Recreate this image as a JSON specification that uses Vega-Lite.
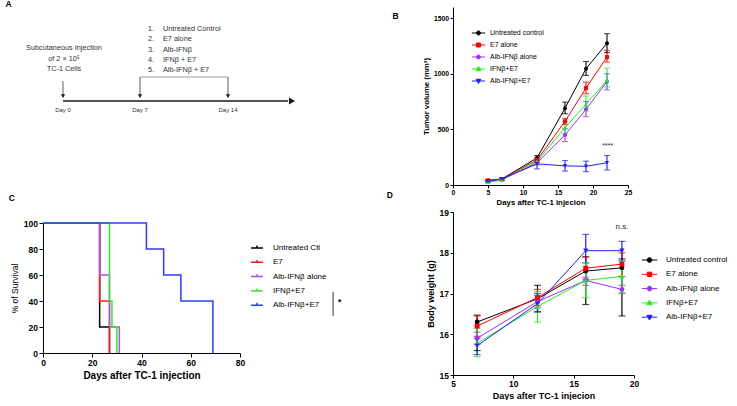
{
"$schema":"https://vega.github.io/schema/vega-lite/v6.json",
"padding":0,
"config":{
 "font":"Liberation Sans",
 "view":{"stroke":null},
 "axis":{"grid":false,"domainColor":"#000","tickColor":"#000","labelColor":"#000","titleColor":"#000","labelFont":"Liberation Sans","titleFont":"Liberation Sans","labelFontWeight":"bold","titleFontWeight":"bold","labelFlush":false,"labelOverlap":false,"domainWidth":1,"tickWidth":1,"tickSize":3,"labelPadding":1.5,"format":"d"},
 "axisY":{"labelOverlap":false},
 "legend":{"labelColor":"#000","labelFont":"Liberation Sans"},
 "title":{"color":"#000","font":"Liberation Sans"},
 "text":{"font":"Liberation Sans"}
},
"datasets":{
 "tumor":[
  {"series":"Untreated control","day":5,"mean":38,"lo":31,"hi":45},
  {"series":"Untreated control","day":7,"mean":55,"lo":48,"hi":62},
  {"series":"Untreated control","day":12,"mean":243,"lo":218,"hi":265},
  {"series":"Untreated control","day":16,"mean":690,"lo":640,"hi":745},
  {"series":"Untreated control","day":19,"mean":1045,"lo":985,"hi":1110},
  {"series":"Untreated control","day":22,"mean":1275,"lo":1190,"hi":1360},
  {"series":"E7 alone","day":5,"mean":42,"lo":35,"hi":49},
  {"series":"E7 alone","day":7,"mean":52,"lo":46,"hi":58},
  {"series":"E7 alone","day":12,"mean":225,"lo":205,"hi":245},
  {"series":"E7 alone","day":16,"mean":572,"lo":545,"hi":598},
  {"series":"E7 alone","day":19,"mean":872,"lo":820,"hi":925},
  {"series":"E7 alone","day":22,"mean":1150,"lo":1105,"hi":1210},
  {"series":"Alb-IFNβ alone","day":5,"mean":30,"lo":24,"hi":36},
  {"series":"Alb-IFNβ alone","day":7,"mean":48,"lo":42,"hi":54},
  {"series":"Alb-IFNβ alone","day":12,"mean":200,"lo":180,"hi":220},
  {"series":"Alb-IFNβ alone","day":16,"mean":450,"lo":390,"hi":505},
  {"series":"Alb-IFNβ alone","day":19,"mean":680,"lo":615,"hi":750},
  {"series":"Alb-IFNβ alone","day":22,"mean":930,"lo":855,"hi":1000},
  {"series":"IFNβ+E7","day":5,"mean":25,"lo":20,"hi":31},
  {"series":"IFNβ+E7","day":7,"mean":45,"lo":40,"hi":50},
  {"series":"IFNβ+E7","day":12,"mean":212,"lo":192,"hi":232},
  {"series":"IFNβ+E7","day":16,"mean":515,"lo":460,"hi":570},
  {"series":"IFNβ+E7","day":19,"mean":725,"lo":665,"hi":800},
  {"series":"IFNβ+E7","day":22,"mean":940,"lo":880,"hi":1050},
  {"series":"Alb-IFNβ+E7","day":5,"mean":35,"lo":26,"hi":44},
  {"series":"Alb-IFNβ+E7","day":7,"mean":55,"lo":46,"hi":64},
  {"series":"Alb-IFNβ+E7","day":12,"mean":190,"lo":145,"hi":235},
  {"series":"Alb-IFNβ+E7","day":16,"mean":172,"lo":125,"hi":220},
  {"series":"Alb-IFNβ+E7","day":19,"mean":168,"lo":120,"hi":215},
  {"series":"Alb-IFNβ+E7","day":22,"mean":200,"lo":135,"hi":265}
 ],
 "weight":[
  {"series":"Untreated control","day":7,"mean":16.3,"lo":15.6,"hi":16.47},
  {"series":"Untreated control","day":12,"mean":16.87,"lo":16.55,"hi":17.2},
  {"series":"Untreated control","day":16,"mean":17.55,"lo":16.73,"hi":17.9},
  {"series":"Untreated control","day":19,"mean":17.63,"lo":16.45,"hi":17.85},
  {"series":"E7 alone","day":7,"mean":16.2,"lo":15.95,"hi":16.45},
  {"series":"E7 alone","day":12,"mean":16.9,"lo":16.7,"hi":17.1},
  {"series":"E7 alone","day":16,"mean":17.62,"lo":17.35,"hi":17.9},
  {"series":"E7 alone","day":19,"mean":17.72,"lo":17.42,"hi":18.0},
  {"series":"Alb-IFNβ alone","day":7,"mean":15.9,"lo":15.75,"hi":16.05},
  {"series":"Alb-IFNβ alone","day":12,"mean":16.8,"lo":16.65,"hi":16.95},
  {"series":"Alb-IFNβ alone","day":16,"mean":17.32,"lo":17.2,"hi":17.4},
  {"series":"Alb-IFNβ alone","day":19,"mean":17.1,"lo":17.0,"hi":17.2},
  {"series":"IFNβ+E7","day":7,"mean":15.78,"lo":15.45,"hi":16.15},
  {"series":"IFNβ+E7","day":12,"mean":16.68,"lo":16.3,"hi":17.05},
  {"series":"IFNβ+E7","day":16,"mean":17.32,"lo":16.9,"hi":17.75},
  {"series":"IFNβ+E7","day":19,"mean":17.42,"lo":17.02,"hi":17.8},
  {"series":"Alb-IFNβ+E7","day":7,"mean":15.72,"lo":15.5,"hi":15.9},
  {"series":"Alb-IFNβ+E7","day":12,"mean":16.75,"lo":16.55,"hi":17.0},
  {"series":"Alb-IFNβ+E7","day":16,"mean":18.05,"lo":17.75,"hi":18.45},
  {"series":"Alb-IFNβ+E7","day":19,"mean":18.05,"lo":17.8,"hi":18.28}
 ],
 "surv":[
  {"series":"Untreated Ctl","day":0,"pct":100},
  {"series":"Untreated Ctl","day":23,"pct":20},
  {"series":"Untreated Ctl","day":27,"pct":0},
  {"series":"E7","day":0,"pct":100},
  {"series":"E7","day":23,"pct":40},
  {"series":"E7","day":27,"pct":0},
  {"series":"Alb-IFNβ alone","day":0,"pct":100},
  {"series":"Alb-IFNβ alone","day":23,"pct":60},
  {"series":"Alb-IFNβ alone","day":27,"pct":20},
  {"series":"Alb-IFNβ alone","day":31,"pct":0},
  {"series":"IFNβ+E7","day":0,"pct":100},
  {"series":"IFNβ+E7","day":27,"pct":40},
  {"series":"IFNβ+E7","day":28,"pct":20},
  {"series":"IFNβ+E7","day":30,"pct":0},
  {"series":"Alb-IFNβ+E7","day":0,"pct":100},
  {"series":"Alb-IFNβ+E7","day":42,"pct":80},
  {"series":"Alb-IFNβ+E7","day":49,"pct":60},
  {"series":"Alb-IFNβ+E7","day":56,"pct":40},
  {"series":"Alb-IFNβ+E7","day":69,"pct":0}
 ]
},
"bounds":"flush",
"spacing":410,
"resolve":{"scale":{"color":"independent","shape":"independent","strokeWidth":"independent","size":"independent"}},
"hconcat":[
 {"vconcat":[
  {
   "width":197,"height":200,
   "layer":[
    {"data":{"values":[
      {"part":"timeline","x1":10.15,"x2":124.4,"y1":47,"y2":47},
      {"part":"bracket","x1":49.24,"x2":93.9,"y1":35,"y2":35},
      {"part":"arrow","x1":10.15,"x2":10.15,"y1":37,"y2":45},
      {"part":"arrow","x1":49.24,"x2":49.24,"y1":35,"y2":45},
      {"part":"arrow","x1":93.9,"x2":93.9,"y1":35,"y2":45}]},
     "mark":{"type":"rule"},
     "encoding":{
      "x":{"field":"x1","type":"quantitative","scale":{"domain":[0,100]},"axis":null},
      "x2":{"field":"x2"},
      "y":{"field":"y1","type":"quantitative","scale":{"domain":[0,100],"reverse":true},"axis":null},
      "y2":{"field":"y2"},
      "color":{"field":"part","type":"nominal","scale":{"domain":["timeline","bracket","arrow"],"range":["#1a1a1a","#a0a0a0","#333333"]},"legend":null},
      "strokeWidth":{"field":"part","type":"ordinal","scale":{"domain":["timeline","bracket","arrow"],"range":[1.6,0.8,0.9]},"legend":null}
     }},
    {"data":{"values":[
      {"dir":"down","x":10.15,"y":44.6},
      {"dir":"down","x":49.24,"y":44.6},
      {"dir":"down","x":93.9,"y":44.6},
      {"dir":"right","x":126.4,"y":47}]},
     "mark":{"type":"point","filled":true,"opacity":1,"fill":"#1a1a1a","stroke":null},
     "encoding":{
      "x":{"field":"x","type":"quantitative"},
      "y":{"field":"y","type":"quantitative"},
      "shape":{"field":"dir","type":"nominal","scale":{"domain":["down","right"],"range":["triangle-down","triangle-right"]},"legend":null},
      "size":{"field":"dir","type":"ordinal","scale":{"domain":["down","right"],"range":[18,50]},"legend":null}
     }},
    {"data":{"values":[
      {"t":"Subcutaneous Injection","x":10.66,"y":20.5},
      {"t":"of 2 × 10⁵","x":10.66,"y":26},
      {"t":"TC-1 Cells","x":10.66,"y":31}]},
     "mark":{"type":"text","fontSize":7.3,"fill":"#333333","align":"center","baseline":"middle"},
     "encoding":{"x":{"field":"x","type":"quantitative"},"y":{"field":"y","type":"quantitative"},"text":{"field":"t"}}},
    {"data":{"values":[
      {"t":"Day 0","x":10.15,"y":51.5},
      {"t":"Day 7","x":49.24,"y":51.5},
      {"t":"Day 14","x":93.9,"y":51.5}]},
     "mark":{"type":"text","fontSize":6,"fill":"#333333","align":"center","baseline":"middle"},
     "encoding":{"x":{"field":"x","type":"quantitative"},"y":{"field":"y","type":"quantitative"},"text":{"field":"t"}}},
    {"data":{"values":[
      {"n":"1.","t":"Untreated Control","xn":53.3,"xt":60.9,"y":10.85},
      {"n":"2.","t":"E7 alone","xn":53.3,"xt":60.9,"y":16.15},
      {"n":"3.","t":"Alb-IFNβ","xn":53.3,"xt":60.9,"y":21.35},
      {"n":"4.","t":"IFNβ + E7","xn":53.3,"xt":60.9,"y":26.35},
      {"n":"5.","t":"Alb-IFNβ + E7","xn":53.3,"xt":60.9,"y":31.35}]},
     "layer":[
      {"mark":{"type":"text","fontSize":7.3,"fill":"#333333","align":"left","baseline":"middle"},
       "encoding":{"x":{"field":"xn","type":"quantitative"},"y":{"field":"y","type":"quantitative"},"text":{"field":"n"}}},
      {"mark":{"type":"text","fontSize":7.3,"fill":"#333333","align":"left","baseline":"middle"},
       "encoding":{"x":{"field":"xt","type":"quantitative"},"y":{"field":"y","type":"quantitative"},"text":{"field":"t"}}}
     ]}
   ]
  },
  {
   "width":197,"height":130,
   "layer":[
    {"data":{"name":"surv"},
     "mark":{"type":"line","interpolate":"step-after","strokeWidth":1.5},
     "encoding":{
      "x":{"field":"day","type":"quantitative","scale":{"domain":[0,80]},"axis":{"values":[0,20,40,60,80],"title":"Days after TC-1 injection","labelFontSize":8.5,"titleFontSize":10,"tickSize":4,"titlePadding":3,"labelOverlap":false}},
      "y":{"field":"pct","type":"quantitative","scale":{"domain":[0,100]},"axis":{"values":[0,20,40,60,80,100],"title":"% of Survival","labelFontSize":8.5,"titleFontSize":8.5,"titleFontWeight":"normal","tickSize":4,"titlePadding":4,"labelOverlap":false,"labelSeparation":-40}},
      "color":{"field":"series","type":"nominal","scale":{"domain":["Untreated Ctl","E7","Alb-IFNβ alone","IFNβ+E7","Alb-IFNβ+E7"],"range":["#000000","#ff1a1a","#b44ee8","#2ee82e","#2a3cff"]},
       "legend":{"orient":"none","legendX":207,"legendY":18,"title":null,"labelFontSize":8,"symbolType":"M-1,0H1M0,0V-0.4","symbolSize":144,"symbolStrokeWidth":1.5,"labelOffset":9,"rowPadding":3.3}}
     }},
    {"data":{"values":[{"day":117.8,"pct":47,"pct2":28.5}]},
     "mark":{"type":"rule","color":"#000","strokeWidth":0.8},
     "encoding":{
      "x":{"field":"day","type":"quantitative","axis":{"values":[0,20,40,60,80],"title":"Days after TC-1 injection","labelFontSize":8.5,"titleFontSize":10,"tickSize":4,"titlePadding":3,"labelOverlap":false}},
      "y":{"field":"pct","type":"quantitative","axis":{"values":[0,20,40,60,80,100],"title":"% of Survival","labelFontSize":8.5,"titleFontSize":8.5,"titleFontWeight":"normal","tickSize":4,"titlePadding":4,"labelOverlap":false,"labelSeparation":-40}},
      "y2":{"field":"pct2"}}},
    {"data":{"values":[{"day":120.5,"pct":39,"t":"*"},{"day":-12.7,"pct":119.5,"t":"C"},{"day":-14.0,"pct":268.1,"t":"A"}]},
     "mark":{"type":"text","fontSize":8.5,"fontWeight":"bold","fill":"#000","align":"center","baseline":"middle"},
     "encoding":{
      "x":{"field":"day","type":"quantitative","axis":{"values":[0,20,40,60,80],"title":"Days after TC-1 injection","labelFontSize":8.5,"titleFontSize":10,"tickSize":4,"titlePadding":3,"labelOverlap":false}},
      "y":{"field":"pct","type":"quantitative","axis":{"values":[0,20,40,60,80,100],"title":"% of Survival","labelFontSize":8.5,"titleFontSize":8.5,"titleFontWeight":"normal","tickSize":4,"titlePadding":4,"labelOverlap":false,"labelSeparation":-40}},
      "text":{"field":"t"}}}
   ]
  }
 ],"spacing":16,"bounds":"flush","resolve":{"scale":{"color":"independent","shape":"independent","strokeWidth":"independent","size":"independent"}}},
 {"vconcat":[
  {
   "width":175,"height":178,
   "data":{"name":"tumor"},
   "encoding":{
    "x":{"field":"day","type":"quantitative","scale":{"domain":[0,25]},"axis":{"values":[0,5,10,15,20,25],"title":"Days after TC-1 injecion","labelFontSize":6.8,"titleFontSize":7.8,"titlePadding":2,"labelOverlap":false}},
    "color":{"field":"series","type":"nominal","scale":{"domain":["Untreated control","E7 alone","Alb-IFNβ alone","IFNβ+E7","Alb-IFNβ+E7"],"range":["#000000","#ff0000","#9b30ff","#22ee22","#1f1fff"]},"legend":null}
   },
   "layer":[
    {"data":{"values":[{"day":-64.714,"day2":40.571,"v":1567.4,"v2":-1853.9}]},
     "mark":{"type":"rect","fill":"#ffffff","opacity":0,"stroke":null},
     "encoding":{"x2":{"field":"day2"},"y":{"field":"v","type":"quantitative","axis":{"title":"Tumor volume (mm³)"}},"y2":{"field":"v2"},"color":{"value":"#ffffff"}}},
    {"mark":{"type":"line","strokeWidth":1},
     "encoding":{
      "y":{"field":"mean","type":"quantitative","scale":{"domain":[0,1500]},"axis":{"values":[0,500,1000,1500],"title":"Tumor volume (mm³)","labelFontSize":6.8,"titleFontSize":7.8,"titlePadding":3,"labelOverlap":false}},
      "color":{"field":"series","type":"nominal","scale":{"domain":["Untreated control","E7 alone","Alb-IFNβ alone","IFNβ+E7","Alb-IFNβ+E7"],"range":["#000000","#ff0000","#9b30ff","#22ee22","#1f1fff"]},
       "legend":{"orient":"none","legendX":18,"legendY":18.5,"title":null,"labelFontSize":7,"symbolSize":177,"labelOffset":4,"rowPadding":-1.2,"symbolStrokeWidth":1,
        "encode":{"symbols":{"update":{
         "shape":{"signal":"['M-1,0H1M-0.3,0A0.3,0.3,0,1,1,0.3,0A0.3,0.3,0,1,1,-0.3,0Z','M-1,0H1M-0.3,-0.3H0.3V0.3H-0.3Z','M-1,0H1M-0.3,0A0.3,0.3,0,1,1,0.3,0A0.3,0.3,0,1,1,-0.3,0Z','M-1,0H1M0,-0.38L0.36,0.26L-0.36,0.26Z','M-1,0H1M0,0.38L0.36,-0.26L-0.36,-0.26Z'][datum.index]"},
         "fill":{"signal":"['#000000','#ff0000','#9b30ff','#22ee22','#1f1fff'][datum.index]"},
         "stroke":{"signal":"['#000000','#ff0000','#9b30ff','#22ee22','#1f1fff'][datum.index]"},
         "opacity":{"value":1}}}}}}
     }},
    {"mark":{"type":"rule","strokeWidth":1.1},
     "encoding":{"y":{"field":"lo","type":"quantitative","axis":{"title":"Tumor volume (mm³)"}},"y2":{"field":"hi"}}},
    {"mark":{"type":"tick","orient":"horizontal","size":6,"thickness":1.1},
     "encoding":{"y":{"field":"lo","type":"quantitative","axis":{"title":"Tumor volume (mm³)"}}}},
    {"mark":{"type":"tick","orient":"horizontal","size":6,"thickness":1.1},
     "encoding":{"y":{"field":"hi","type":"quantitative","axis":{"title":"Tumor volume (mm³)"}}}},
    {"transform":[{"filter":{"field":"series","oneOf":["Untreated control","Alb-IFNβ alone"]}}],
     "mark":{"type":"point","shape":"circle","filled":true,"opacity":1,"size":16},
     "encoding":{"y":{"field":"mean","type":"quantitative","axis":{"title":"Tumor volume (mm³)"}}}},
    {"transform":[{"filter":{"field":"series","equal":"E7 alone"}}],
     "mark":{"type":"point","shape":"square","filled":true,"opacity":1,"size":16},
     "encoding":{"y":{"field":"mean","type":"quantitative","axis":{"title":"Tumor volume (mm³)"}}}},
    {"transform":[{"filter":{"field":"series","equal":"IFNβ+E7"}}],
     "mark":{"type":"point","shape":"triangle-up","filled":true,"opacity":1,"size":18},
     "encoding":{"y":{"field":"mean","type":"quantitative","axis":{"title":"Tumor volume (mm³)"}}}},
    {"transform":[{"filter":{"field":"series","equal":"Alb-IFNβ+E7"}}],
     "mark":{"type":"point","shape":"triangle-down","filled":true,"opacity":1,"size":18},
     "encoding":{"y":{"field":"mean","type":"quantitative","axis":{"title":"Tumor volume (mm³)"}}}},
    {"data":{"values":[{"day":22.1,"v":355,"t":"****"}]},
     "mark":{"type":"text","fontSize":7,"align":"center","baseline":"middle"},
     "encoding":{"y":{"field":"v","type":"quantitative","axis":{"title":"Tumor volume (mm³)"}},"text":{"field":"t"},"color":{"value":"#222"}}},
    {"data":{"values":[{"t":"B","day":-8.21,"v":1521}]},
     "mark":{"type":"text","fontSize":8.5,"fontWeight":"bold","align":"center","baseline":"middle"},
     "encoding":{"y":{"field":"v","type":"quantitative","axis":{"title":"Tumor volume (mm³)"}},"text":{"field":"t"},"color":{"value":"#000"}}}
   ]
  },
  {
   "width":181,"height":163,
   "data":{"name":"weight"},
   "encoding":{
    "x":{"field":"day","type":"quantitative","scale":{"domain":[5,20]},"axis":{"values":[5,10,15,20],"title":"Days after TC-1 injecion","labelFontSize":8.5,"titleFontSize":9,"titlePadding":3,"labelOverlap":false}},
    "color":{"field":"series","type":"nominal","scale":{"domain":["Untreated control","E7 alone","Alb-IFNβ alone","IFNβ+E7","Alb-IFNβ+E7"],"range":["#000000","#ff0000","#9b30ff","#22ee22","#1f1fff"]},"legend":null}
   },
   "layer":[
    {"mark":{"type":"line","strokeWidth":1},
     "encoding":{
      "y":{"field":"mean","type":"quantitative","scale":{"domain":[15,19]},"axis":{"values":[15,16,17,18,19],"title":"Body weight (g)","labelFontSize":8.5,"titleFontSize":9,"titlePadding":4,"labelOverlap":false}},
      "color":{"field":"series","type":"nominal","scale":{"domain":["Untreated control","E7 alone","Alb-IFNβ alone","IFNβ+E7","Alb-IFNβ+E7"],"range":["#000000","#ff0000","#9b30ff","#22ee22","#1f1fff"]},
       "legend":{"orient":"none","legendX":188,"legendY":39.5,"title":null,"labelFontSize":8,"symbolSize":240,"labelOffset":8,"rowPadding":1.3,"symbolStrokeWidth":1,
        "encode":{"symbols":{"update":{
         "shape":{"signal":"['M-1,0H1M-0.3,0A0.3,0.3,0,1,1,0.3,0A0.3,0.3,0,1,1,-0.3,0Z','M-1,0H1M-0.28,-0.28H0.28V0.28H-0.28Z','M-1,0H1M-0.3,0A0.3,0.3,0,1,1,0.3,0A0.3,0.3,0,1,1,-0.3,0Z','M-1,0H1M0,-0.36L0.34,0.24L-0.34,0.24Z','M-1,0H1M0,0.36L0.34,-0.24L-0.34,-0.24Z'][datum.index]"},
         "fill":{"signal":"['#000000','#ff0000','#9b30ff','#22ee22','#1f1fff'][datum.index]"},
         "stroke":{"signal":"['#000000','#ff0000','#9b30ff','#22ee22','#1f1fff'][datum.index]"},
         "opacity":{"value":1}}}}}}
     }},
    {"mark":{"type":"rule","strokeWidth":1.2},
     "encoding":{"y":{"field":"lo","type":"quantitative","axis":{"title":"Body weight (g)"}},"y2":{"field":"hi"}}},
    {"mark":{"type":"tick","orient":"horizontal","size":7,"thickness":1.2},
     "encoding":{"y":{"field":"lo","type":"quantitative","axis":{"title":"Body weight (g)"}}}},
    {"mark":{"type":"tick","orient":"horizontal","size":7,"thickness":1.2},
     "encoding":{"y":{"field":"hi","type":"quantitative","axis":{"title":"Body weight (g)"}}}},
    {"transform":[{"filter":{"field":"series","oneOf":["Untreated control","Alb-IFNβ alone"]}}],
     "mark":{"type":"point","shape":"circle","filled":true,"opacity":1,"size":24},
     "encoding":{"y":{"field":"mean","type":"quantitative","axis":{"title":"Body weight (g)"}}}},
    {"transform":[{"filter":{"field":"series","equal":"E7 alone"}}],
     "mark":{"type":"point","shape":"square","filled":true,"opacity":1,"size":24},
     "encoding":{"y":{"field":"mean","type":"quantitative","axis":{"title":"Body weight (g)"}}}},
    {"transform":[{"filter":{"field":"series","equal":"IFNβ+E7"}}],
     "mark":{"type":"point","shape":"triangle-up","filled":true,"opacity":1,"size":26},
     "encoding":{"y":{"field":"mean","type":"quantitative","axis":{"title":"Body weight (g)"}}}},
    {"transform":[{"filter":{"field":"series","equal":"Alb-IFNβ+E7"}}],
     "mark":{"type":"point","shape":"triangle-down","filled":true,"opacity":1,"size":26},
     "encoding":{"y":{"field":"mean","type":"quantitative","axis":{"title":"Body weight (g)"}}}},
    {"data":{"values":[{"day":19,"v":18.63,"t":"n.s."}]},
     "mark":{"type":"text","fontSize":8,"align":"center","baseline":"middle"},
     "encoding":{"y":{"field":"v","type":"quantitative","axis":{"title":"Body weight (g)"}},"text":{"field":"t"},"color":{"value":"#222"}}},
    {"data":{"values":[{"t":"D","day":-0.24,"v":19.42}]},
     "mark":{"type":"text","fontSize":8.5,"fontWeight":"bold","align":"center","baseline":"middle"},
     "encoding":{"y":{"field":"v","type":"quantitative","axis":{"title":"Body weight (g)"}},"text":{"field":"t"},"color":{"value":"#000"}}}
   ]
  }
 ],"spacing":27,"bounds":"flush","resolve":{"scale":{"color":"independent","shape":"independent","strokeWidth":"independent","size":"independent"}}}
]
}
